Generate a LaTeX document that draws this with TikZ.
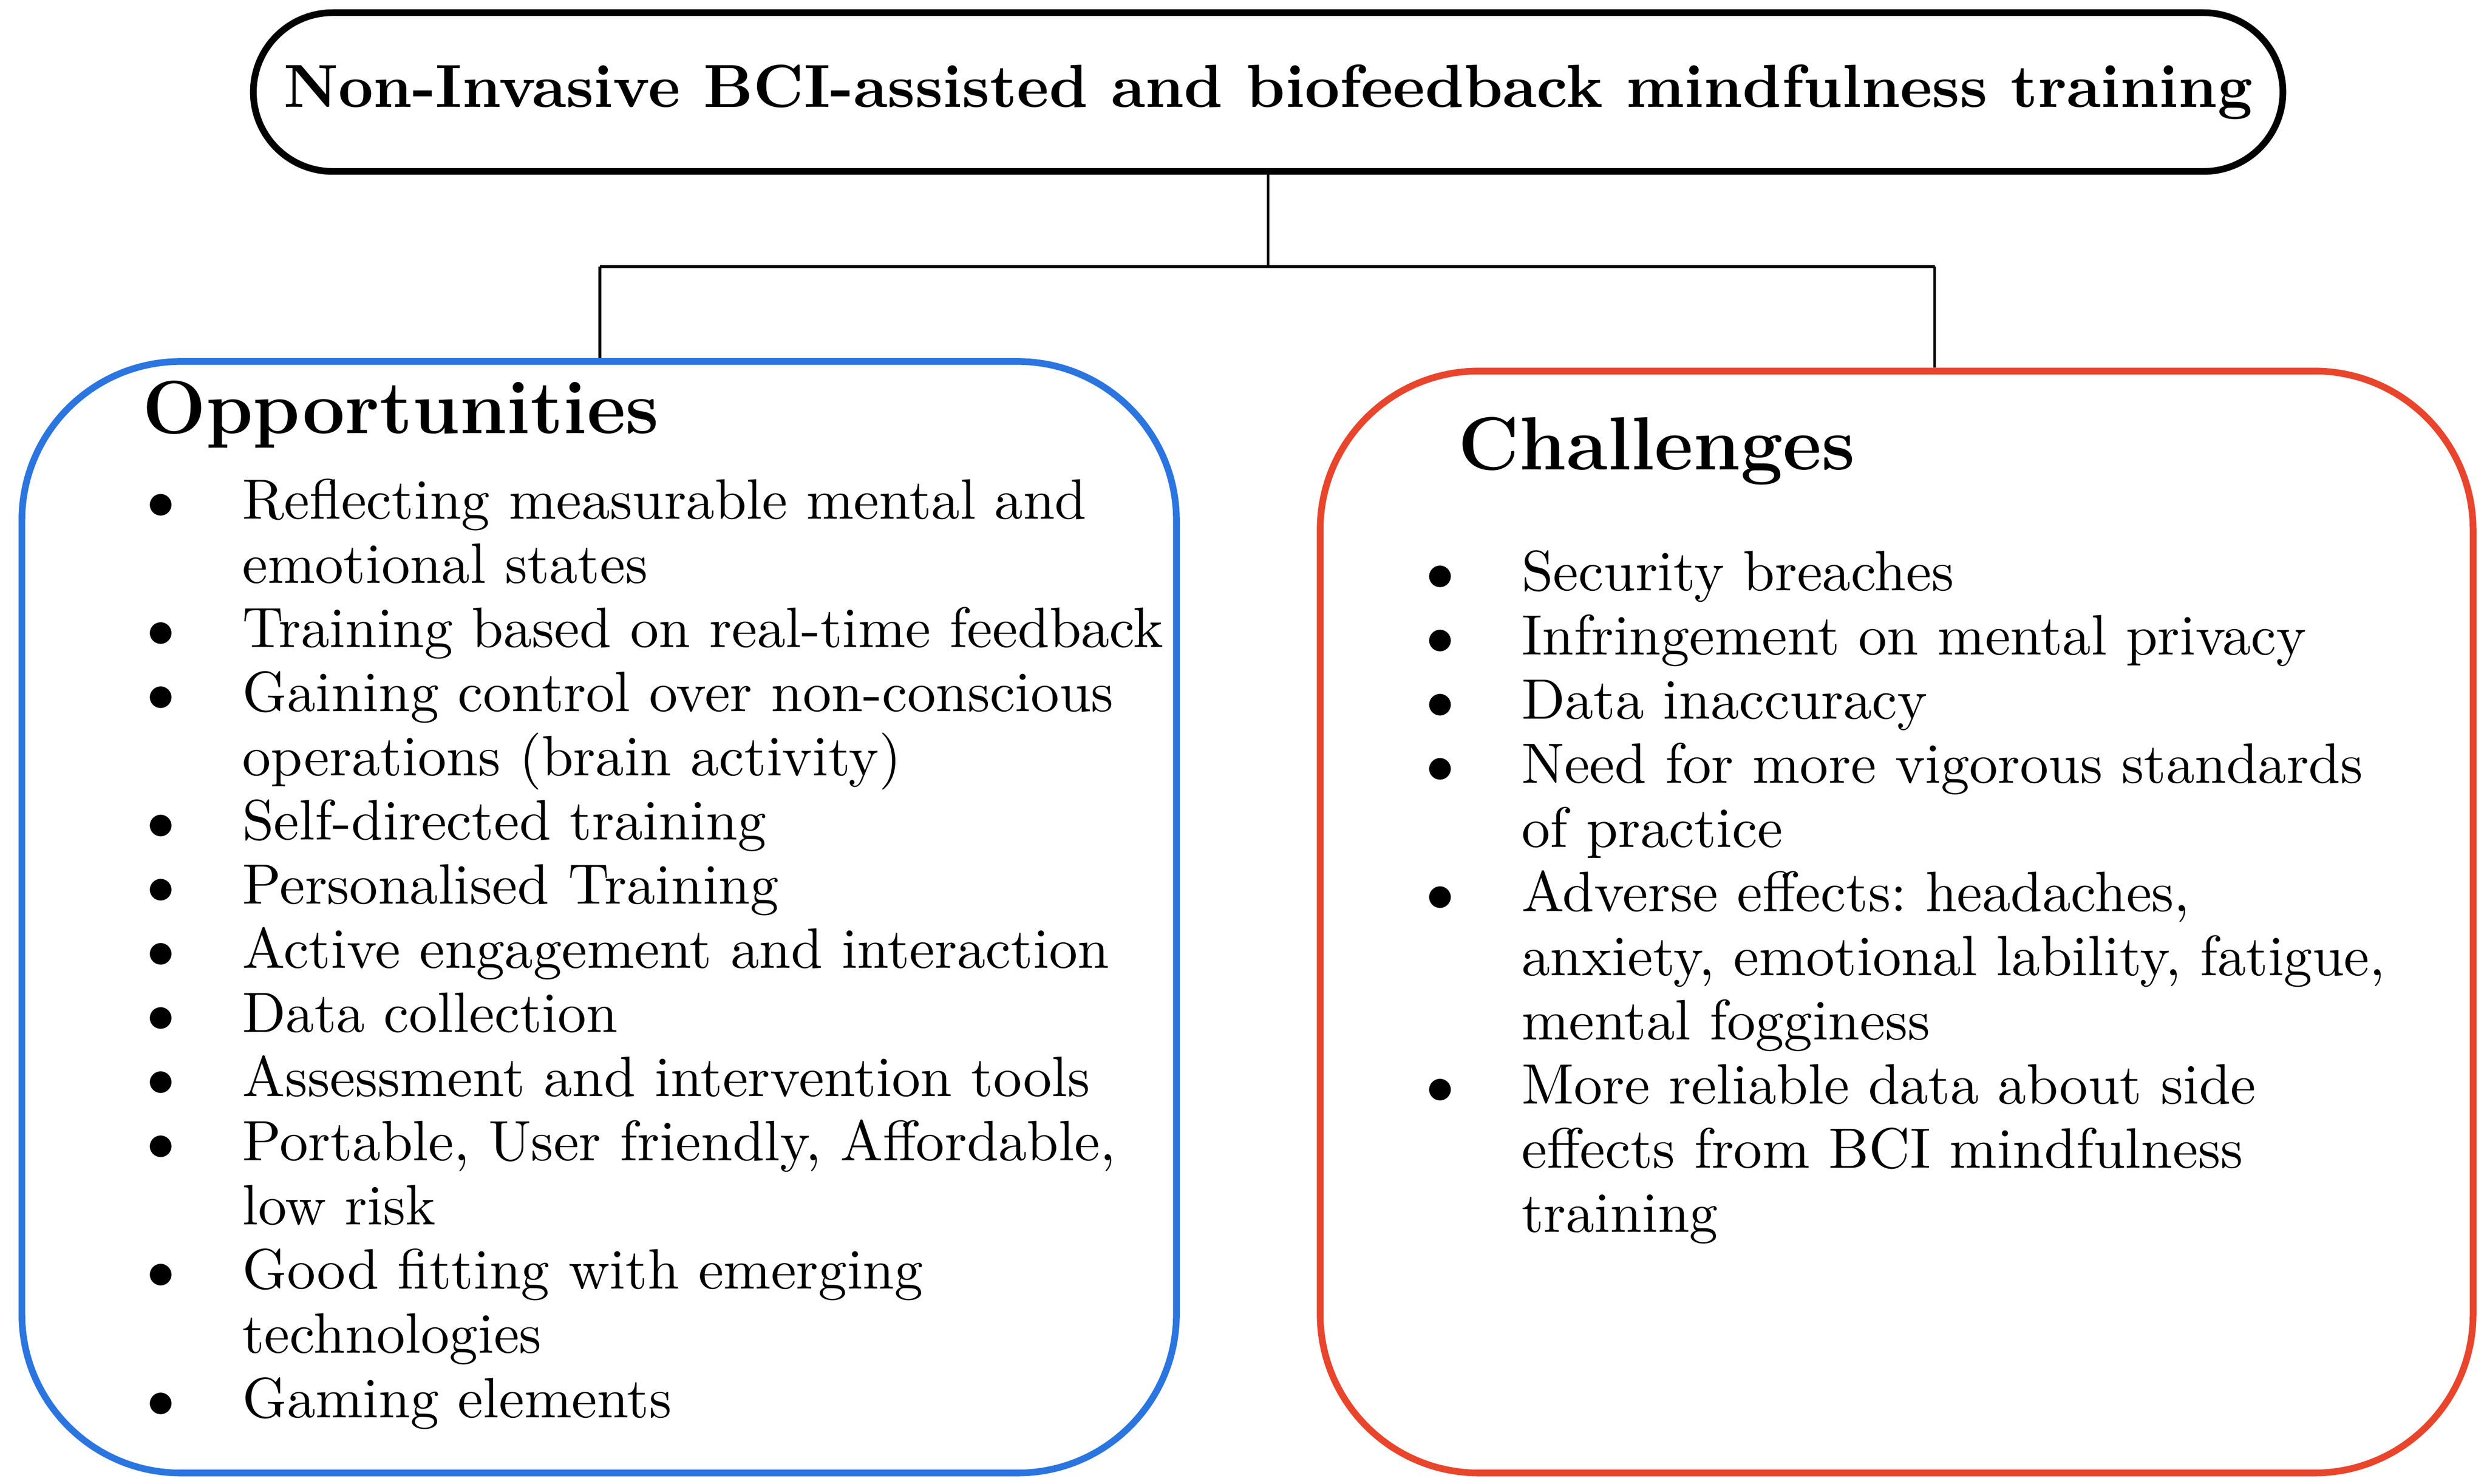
\documentclass[tikz,border=0pt]{standalone}
\usepackage{array}
\begin{document}
\begin{tikzpicture}[x=0.01cm,y=-0.01cm,
  txt/.style={inner sep=0pt,anchor=base west,font=\fontsize{10.2}{11.5}\selectfont},
  ttl/.style={inner sep=0pt,anchor=base west,font=\fontsize{13.5}{15}\selectfont\bfseries},
  conn/.style={draw=black,line width=0.5pt}]
\useasboundingbox (0,0) rectangle (1567,935);
\definecolor{oppblue}{HTML}{2A75E0}
\definecolor{chred}{HTML}{E8452C}
\node[draw,line width=1.2pt,rounded corners=0.5cm,minimum width=12.78cm,minimum height=1.0cm,
  font=\fontsize{10.9}{12}\selectfont\bfseries] (top) at (799,58) {Non-Invasive BCI-assisted and biofeedback mindfulness training};
\node[draw=oppblue,line width=1.2pt,rounded corners=1cm,minimum width=7.27cm,minimum height=7.0cm] (opp) at (377.5,578) {};
\node[draw=chred,line width=1.2pt,rounded corners=1cm,minimum width=7.26cm,minimum height=6.94cm] (ch) at (1195,581) {};
\coordinate (mid) at (799,168);
\coordinate (l) at (378,168);
\coordinate (r) at (1219,168);
\draw[conn] (top.south -| mid) -- (mid) (l) -- (r);
\draw[conn] (l) -- (l |- opp.north);
\draw[conn] (r) -- (r |- ch.north);
\node[ttl] (ot) at (89,273) {Opportunities};
\node[ttl] (ct) at (918,296) {Challenges};
\renewcommand{\arraystretch}{1.0}
\node[txt] (ol) at (92,327) {\fontsize{10.2}{11.5}\selectfont\begin{tabular}[t]{@{}p{0.6cm}@{}l@{}}
$\bullet$ & Reflecting measurable mental and\\
 & emotional states\\
$\bullet$ & Training based on real-time feedback\\
$\bullet$ & Gaining control over non-conscious\\
 & operations (brain activity)\\
$\bullet$ & Self-directed training\\
$\bullet$ & Personalised Training\\
$\bullet$ & Active\ engagement and interaction\\
$\bullet$ & Data collection\\
$\bullet$ & Assessment and intervention tools\\
$\bullet$ & Portable, User friendly, Affordable,\\
 & low risk\\
$\bullet$ & Good fitting with emerging\\
 & technologies\\
$\bullet$ & Gaming elements
\end{tabular}};
\node[txt] (cl) at (898,372) {\fontsize{10.2}{11.5}\selectfont\begin{tabular}[t]{@{}p{0.6cm}@{}l@{}}
$\bullet$ & Security breaches\\
$\bullet$ & Infringement on mental privacy\\
$\bullet$ & Data inaccuracy\\
$\bullet$ & Need for\ more vigorous standards\\
 & of practice\\
$\bullet$ & Adverse effects:\ headaches,\\
 & anxiety, emotional lability,\ fatigue,\\
 & mental fogginess\\
$\bullet$ & More reliable data about side\\
 & effects from\ BCI mindfulness\\
 & training
\end{tabular}};
\end{tikzpicture}
\end{document}
